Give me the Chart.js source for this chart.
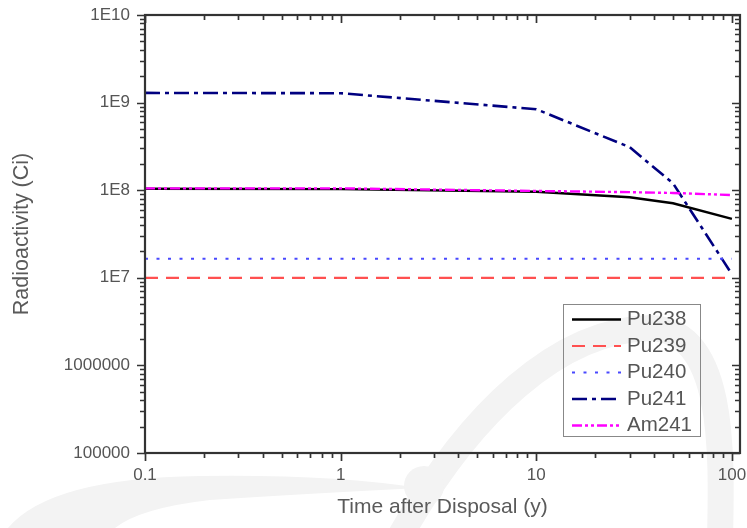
<!DOCTYPE html>
<html><head><meta charset="utf-8">
<script src="https://cdn.jsdelivr.net/npm/chart.js@4.4.1/dist/chart.umd.min.js"></script>
<style>html,body{margin:0;padding:0;background:#fff;}#wrap{width:747px;height:528px;position:relative;}</style>
</head><body><div id="wrap"><canvas id="c"></canvas></div>
<script>
// ---- data ----
const years = [0.1, 1, 10, 30, 50, 100];
const pu238 = [1.04e8, 1.03e8, 9.6e7, 8.3e7, 7.1e7, 4.7e7];
const pu239 = [1.0e7, 1.0e7, 1.0e7, 1.0e7, 1.0e7, 1.0e7];
const pu240 = [1.65e7, 1.65e7, 1.65e7, 1.65e7, 1.65e7, 1.65e7];
const pu241 = [1.29e9, 1.28e9, 8.4e8, 3.1e8, 1.2e8, 1.1e7];
const am241 = [1.05e8, 1.05e8, 9.8e7, 9.5e7, 9.3e7, 8.8e7];
const seriesNames = ['Pu238', 'Pu239', 'Pu240', 'Pu241', 'Am241'];
const xTickValues = [0.1, 1, 10, 100];
const xTickLabels = ['0.1', '1', '10', '100'];
const yTickValues = [1e5, 1e6, 1e7, 1e8, 1e9, 1e10];
const yTickLabels = ['100000', '1000000', '1E7', '1E8', '1E9', '1E10'];
const xTitle = 'Time after Disposal (y)';
const yTitle = 'Radioactivity (Ci)';

const FONT = "'Liberation Sans', Arial, sans-serif";

function pts(vals) { return years.map((x, i) => ({x: x, y: vals[i]})); }

function logTicks(majors, min, max) {
  const out = [];
  majors.forEach(m => {
    for (let k = 1; k <= 9; k++) {
      const v = m * k;
      if (v >= min * 0.9999 && v <= max * 1.0001) out.push({value: v, major: k === 1});
    }
  });
  return out;
}
function labelFor(majors, labels, v) {
  const i = majors.findIndex(m => Math.abs(m - v) / m < 1e-6);
  return i >= 0 ? labels[i] : '';
}
function noPad(s) { s.paddingTop = 0; s.paddingBottom = 0; s.paddingLeft = 0; s.paddingRight = 0; }

const watermark = {
  id: 'watermark',
  beforeDraw(chart) {
    const c = chart.ctx;
    c.save();
    c.fillStyle = '#f3f3f3';
    c.strokeStyle = '#f3f3f3';
    // bottom-left crescent
    c.beginPath();
    c.moveTo(8, 528);
    c.quadraticCurveTo(50, 478, 200, 476);
    c.quadraticCurveTo(330, 474, 420, 488);
    c.quadraticCurveTo(300, 494, 210, 500);
    c.quadraticCurveTo(140, 508, 115, 528);
    c.closePath();
    c.fill();
    // big arch
    c.lineWidth = 26;
    c.beginPath();
    c.moveTo(398, 540);
    c.bezierCurveTo(470, 410, 560, 330, 650, 328);
    c.bezierCurveTo(725, 330, 722, 450, 720, 540);
    c.stroke();
    c.beginPath();
    c.arc(424, 486, 20, 0, Math.PI * 2);
    c.fill();
    c.restore();
  }
};

const frame = {
  id: 'frame',
  afterDatasetsDraw(chart) {
    const c = chart.ctx, a = chart.chartArea;
    const xs = chart.scales.x, ys = chart.scales.y;
    c.save();
    c.strokeStyle = '#333';
    c.lineWidth = 1.7;
    c.beginPath();
    xs.ticks.forEach(t => {
      const p = Math.round(xs.getPixelForValue(t.value)) + 0.5;
      if (p < a.left - 1 || p > a.right + 1) return;
      const L = t.major ? 8 : 5;
      c.moveTo(p, a.bottom); c.lineTo(p, a.bottom + L);
      c.moveTo(p, a.top); c.lineTo(p, a.top + L);
    });
    ys.ticks.forEach(t => {
      const p = Math.round(ys.getPixelForValue(t.value)) + 0.5;
      if (p < a.top - 1 || p > a.bottom + 1) return;
      const L = t.major ? 8 : 5;
      c.moveTo(a.left - L, p); c.lineTo(a.left, p);
      c.moveTo(a.right, p); c.lineTo(a.right - L, p);
    });
    c.stroke();
    c.lineWidth = 2.2;
    c.strokeRect(a.left, a.top, a.right - a.left, a.bottom - a.top);
    c.restore();
  }
};

const boxLegend = {
  id: 'boxLegend',
  afterDraw(chart) {
    const c = chart.ctx, a = chart.chartArea;
    const bx = a.right - 177, by = a.bottom - 149, bw = 137, bh = 132;
    c.save();
    c.strokeStyle = '#888';
    c.lineWidth = 1;
    c.strokeRect(bx + 0.5, by + 0.5, bw, bh);
    c.font = '20.5px ' + FONT;
    c.textBaseline = 'middle';
    c.textAlign = 'left';
    chart.data.datasets.forEach((ds, i) => {
      const y = by + 15.5 + i * 26.5;
      c.strokeStyle = ds.borderColor;
      c.lineWidth = ds.borderWidth;
      c.setLineDash(ds.borderDash || []);
      c.lineCap = 'butt';
      c.beginPath();
      c.moveTo(bx + 9, y); c.lineTo(bx + 58, y);
      c.stroke();
      c.setLineDash([]);
      c.fillStyle = '#555';
      c.fillText(ds.label, bx + 64, y);
    });
    c.restore();
  }
};

const styles = [
  {color: '#000000', dash: [], width: 2.4, order: 1},
  {color: '#ff5050', dash: [13, 8], width: 2.2, order: 1},
  {color: '#4848ff', dash: [3, 8.5], width: 2.2, order: 1},
  {color: '#000080', dash: [15, 5, 4, 5], width: 2.6, order: 1},
  {color: '#ff00ff', dash: [10, 3, 3, 3, 3, 3], width: 2.4, order: 0}
];
const values = [pu238, pu239, pu240, pu241, am241];

new Chart(document.getElementById('c'), {
  type: 'line',
  data: {
    datasets: seriesNames.map((n, i) => ({
      label: n,
      data: pts(values[i]),
      borderColor: styles[i].color,
      backgroundColor: styles[i].color,
      borderDash: styles[i].dash,
      borderWidth: styles[i].width,
      pointRadius: 0,
      tension: 0,
      fill: false,
      order: styles[i].order
    }))
  },
  options: {
    responsive: true,
    maintainAspectRatio: false,
    animation: false,
    layout: {padding: {top: 15, right: 7, left: 0, bottom: 0}},
    plugins: {legend: {display: false}, tooltip: {enabled: false}},
    scales: {
      x: {
        type: 'logarithmic',
        min: 0.1, max: 110,
        afterBuildTicks: s => { s.ticks = logTicks(xTickValues, s.min, s.max); },
        afterFit: s => { s.height = 75; noPad(s); },
        grid: {display: false, drawTicks: false},
        border: {display: false},
        ticks: {
          autoSkip: false, maxRotation: 0, minRotation: 0, padding: 12,
          color: '#555', font: {family: FONT, size: 17},
          callback: v => labelFor(xTickValues, xTickLabels, v)
        },
        title: {display: true, text: xTitle, color: '#5a5a5a',
          font: {family: FONT, size: 21}, padding: {top: 0, bottom: 8}}
      },
      y: {
        type: 'logarithmic',
        min: 1e5, max: 1e10,
        afterBuildTicks: s => { s.ticks = logTicks(yTickValues, s.min, s.max); },
        afterFit: s => { s.width = 145; noPad(s); },
        grid: {display: false, drawTicks: false},
        border: {display: false},
        ticks: {
          autoSkip: false, padding: 15,
          color: '#555', font: {family: FONT, size: 17},
          callback: v => labelFor(yTickValues, yTickLabels, v)
        },
        title: {display: true, text: yTitle, color: '#5a5a5a',
          font: {family: FONT, size: 21.5}, padding: {top: 9, bottom: 0}}
      }
    }
  },
  plugins: [watermark, frame, boxLegend]
});
</script>
</body></html>
